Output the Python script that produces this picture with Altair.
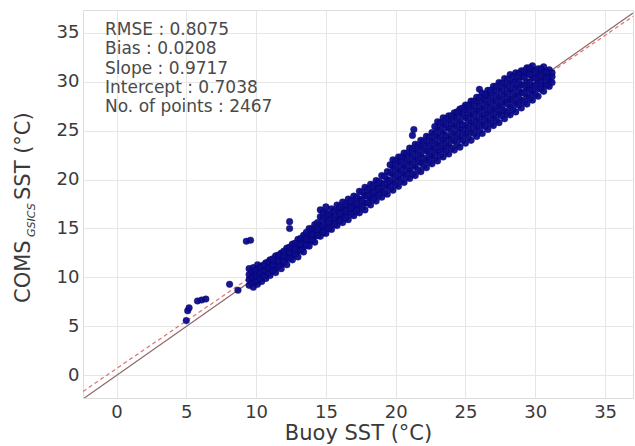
import altair as alt
import pandas as pd

# ---- data ----
outlier_buoy = [5.0, 5.1, 5.2, 5.8, 6.1, 6.4, 8.1, 8.7, 9.3, 9.6, 12.4, 12.4, 21.2, 21.3, 26.0, 26.5]
outlier_coms = [5.6, 6.6, 6.9, 7.6, 7.7, 7.8, 9.3, 8.7, 13.7, 13.8, 15.7, 15.0, 24.5, 25.1, 29.2, 28.6]

band_cols_a = [
    (9.5, [9.2, 9.8, 10.3, 10.9]), (9.8, [9.0, 9.6, 10.1, 10.6, 11.0]),
    (10.1, [9.3, 9.9, 10.4, 10.9, 11.3]), (10.4, [9.6, 10.2, 10.7, 11.2]),
    (10.7, [9.9, 10.5, 11.0, 11.5]), (11.0, [10.2, 10.8, 11.3, 11.8]),
    (11.4, [10.5, 11.0, 11.6, 12.2]), (11.8, [10.9, 11.4, 12.0, 12.5]),
    (12.2, [11.3, 11.9, 12.5, 13.0]), (12.6, [11.8, 12.3, 12.8, 13.4]),
    (13.0, [12.1, 12.7, 13.3, 13.9]), (13.4, [12.6, 13.1, 13.7, 14.3]),
    (13.8, [13.2, 13.8, 14.4, 15.0]), (14.2, [13.6, 14.2, 14.8, 15.4]),
    (14.6, [14.2, 14.8, 15.4, 16.2, 16.9]), (15.0, [14.5, 15.2, 15.9, 16.6, 17.2]),
    (15.4, [14.9, 15.6, 16.3, 17.0]), (15.8, [15.3, 16.0, 16.7, 17.4]),
    (16.2, [15.6, 16.3, 17.0, 17.7]), (16.6, [15.9, 16.6, 17.3, 18.0]),
    (17.0, [16.3, 17.0, 17.6, 18.3]), (17.4, [16.6, 17.3, 18.0, 18.8]),
    (17.8, [16.9, 17.6, 18.4, 19.2]), (18.2, [17.4, 18.1, 18.8, 19.5]),
    (18.6, [17.8, 18.5, 19.2, 19.9]), (19.0, [18.2, 18.9, 19.6, 20.4]),
    (19.4, [18.5, 19.3, 20.0, 20.8]), (19.8, [18.9, 19.7, 20.5, 21.3, 22.0]),
    (20.2, [19.3, 20.1, 20.9, 21.7, 22.3]), (20.6, [19.7, 20.5, 21.3, 22.1, 22.7]),
    (21.0, [20.1, 20.9, 21.7, 22.5, 23.2]), (21.4, [20.4, 21.3, 22.1, 22.9, 23.6]),
    (21.8, [20.8, 21.7, 22.5, 23.3, 24.0]), (22.2, [21.2, 22.0, 22.9, 23.7, 24.4]),
    (22.6, [21.6, 22.4, 23.2, 24.0, 24.8]), (23.0, [21.9, 22.8, 23.6, 24.4, 25.2, 25.9]),
    (23.4, [22.3, 23.1, 24.0, 24.8, 25.6, 26.3]), (23.8, [22.6, 23.5, 24.3, 25.2, 26.0, 26.5]),
    (24.2, [23.0, 23.9, 24.7, 25.5, 26.3, 26.8]), (24.6, [23.3, 24.2, 25.1, 25.9, 26.7, 27.2]),
    (25.0, [23.7, 24.6, 25.4, 26.3, 27.1, 27.6]), (25.4, [24.0, 24.9, 25.8, 26.6, 27.4, 28.0]),
    (25.8, [24.4, 25.3, 26.1, 27.0, 27.8, 28.4]), (26.2, [24.7, 25.6, 26.5, 27.3, 28.1, 28.8]),
    (26.6, [25.1, 26.0, 26.8, 27.7, 28.5, 29.1]), (27.0, [25.5, 26.3, 27.2, 28.0, 28.9, 29.5]),
    (27.4, [25.8, 26.7, 27.5, 28.4, 29.2, 29.9]), (27.8, [26.2, 27.0, 27.9, 28.7, 29.6, 30.3]),
    (28.2, [26.6, 27.4, 28.2, 29.1, 29.9, 30.7]), (28.6, [26.9, 27.8, 28.6, 29.4, 30.2, 30.9]),
    (29.0, [27.3, 28.1, 28.9, 29.7, 30.5, 31.1]), (29.4, [27.7, 28.5, 29.3, 30.0, 30.8, 31.4]),
    (29.8, [28.1, 28.9, 29.6, 30.4, 31.1, 31.6]), (30.2, [28.5, 29.3, 30.0, 30.7, 31.3]),
    (30.6, [29.0, 29.7, 30.4, 31.0, 31.5]), (31.0, [29.5, 30.1, 30.7, 31.2]),
    (31.2, [29.9, 30.5, 30.9]),
]

band_cols_b = [
    (9.7, [9.5, 10.0, 10.6]), (10.0, [9.6, 10.2, 10.7]), (10.3, [9.9, 10.5, 11.0]),
    (10.6, [10.2, 10.7, 11.3]), (10.9, [10.5, 11.0, 11.6]), (11.2, [10.7, 11.3, 11.9]),
    (11.6, [11.2, 11.7, 12.3]), (12.0, [11.6, 12.2, 12.7]), (12.4, [12.0, 12.6, 13.1]),
    (12.8, [12.4, 12.9, 13.5]), (13.2, [12.8, 13.4, 14.0]), (13.6, [13.3, 13.9, 14.6]),
    (14.0, [13.8, 14.4, 15.0]), (14.4, [14.3, 14.9, 15.6]), (14.8, [14.6, 15.3, 16.0, 16.6]),
    (15.2, [15.0, 15.7, 16.4]), (15.6, [15.4, 16.1, 16.8]), (16.0, [15.8, 16.5, 17.2]),
    (16.4, [16.1, 16.8, 17.5]), (16.8, [16.5, 17.2, 17.8]), (17.2, [16.8, 17.5, 18.2]),
    (17.6, [17.2, 17.9, 18.7]), (18.0, [17.6, 18.3, 19.0]), (18.4, [18.0, 18.7, 19.4]),
    (18.8, [18.4, 19.1, 19.8]), (19.2, [18.7, 19.5, 20.3]), (19.6, [19.1, 19.9, 20.7, 21.5]),
    (20.0, [19.5, 20.3, 21.1, 21.9]), (20.4, [19.9, 20.7, 21.5, 22.3]),
    (20.8, [20.3, 21.1, 21.9, 22.7]), (21.2, [20.6, 21.5, 22.3, 23.1]),
    (21.6, [21.0, 21.9, 22.7, 23.5]), (22.0, [21.4, 22.2, 23.1, 23.9]),
    (22.4, [21.8, 22.6, 23.4, 24.3]), (22.8, [22.2, 23.0, 23.8, 24.6, 25.4]),
    (23.2, [22.5, 23.4, 24.2, 25.0, 25.8]), (23.6, [22.9, 23.7, 24.5, 25.4, 26.2]),
    (24.0, [23.2, 24.1, 24.9, 25.7, 26.5]), (24.4, [23.6, 24.5, 25.3, 26.1, 26.9]),
    (24.8, [24.0, 24.8, 25.6, 26.5, 27.3]), (25.2, [24.3, 25.2, 26.0, 26.8, 27.6]),
    (25.6, [24.7, 25.5, 26.4, 27.2, 28.0]), (26.0, [25.0, 25.9, 26.7, 27.5, 28.4]),
    (26.4, [25.4, 26.2, 27.1, 27.9, 28.7]), (26.8, [25.7, 26.6, 27.4, 28.3, 29.1]),
    (27.2, [26.1, 26.9, 27.8, 28.6, 29.5]), (27.6, [26.5, 27.3, 28.1, 29.0, 29.8]),
    (28.0, [26.8, 27.7, 28.5, 29.3, 30.2]), (28.4, [27.2, 28.0, 28.8, 29.7, 30.5]),
    (28.8, [27.6, 28.4, 29.2, 30.0, 30.8]), (29.2, [27.9, 28.8, 29.6, 30.4, 31.1]),
    (29.6, [28.3, 29.1, 29.9, 30.7, 31.4]), (30.0, [28.7, 29.5, 30.3, 31.0]),
    (30.4, [29.2, 29.9, 30.6, 31.3]), (30.8, [29.6, 30.3, 31.0]),
]

stats_lines = ["RMSE : 0.8075", "Bias : 0.0208", "Slope : 0.9717",
               "Intercept : 0.7038", "No. of points : 2467"]
slope = 0.9717
intercept = 0.7038
x_domain = [-2.4, 37.0]
y_domain = [-2.3, 37.3]
ticks = [0, 5, 10, 15, 20, 25, 30, 35]

# ---- build tables ----
bx, by = list(outlier_buoy), list(outlier_coms)
for xv, ys in band_cols_a + band_cols_b:
    for yv in ys:
        bx.append(xv)
        by.append(yv)
pts = pd.DataFrame({"buoy": bx, "coms": by})

one2one = pd.DataFrame({"buoy": [x_domain[0], x_domain[1]], "coms": [x_domain[0], x_domain[1]]})
fit = pd.DataFrame({"buoy": x_domain, "coms": [slope * v + intercept for v in x_domain]})

FONT = "DejaVu Sans"
xs = alt.Scale(domain=x_domain, nice=False, zero=False)
ys_ = alt.Scale(domain=y_domain, nice=False, zero=False)

xaxis = alt.Axis(values=ticks, title="Buoy SST (°C)", grid=True, ticks=False, domain=False,
                 labelFontSize=18, labelColor="#3a3a3a", labelFont=FONT, labelPadding=5,
                 titleFont=FONT, titleFontSize=21, titleFontWeight="normal", titleColor="#3a3a3a",
                 titlePadding=1, gridColor="#e6e6e6")
yaxis = alt.Axis(values=ticks, title=None, grid=True, ticks=False, domain=False,
                 labelFontSize=18, labelColor="#3a3a3a", labelFont=FONT, labelPadding=4,
                 gridColor="#e6e6e6")

base_line = alt.Chart(one2one).mark_line(color="#8a6a6a", strokeWidth=1.2, clip=True).encode(
    x=alt.X("buoy:Q", scale=xs, axis=xaxis),
    y=alt.Y("coms:Q", scale=ys_, axis=yaxis),
)
fit_line = alt.Chart(fit).mark_line(color="#e07070", strokeWidth=1.2, strokeDash=[4, 3], clip=True).encode(
    x=alt.X("buoy:Q"), y=alt.Y("coms:Q")
)
points = alt.Chart(pts).mark_circle(size=44, color="#0c0c8c", opacity=0.95,
                                    stroke="#000066", strokeWidth=0.4).encode(
    x=alt.X("buoy:Q"), y=alt.Y("coms:Q")
)

stat_layers = []
for i, line in enumerate(stats_lines):
    stat_layers.append(
        alt.Chart(pd.DataFrame({"t": [line]})).mark_text(
            align="left", baseline="middle", font=FONT, fontSize=17, color="#4a4a4a"
        ).encode(x=alt.value(22), y=alt.value(20 + 19.3 * i), text="t:N")
    )

ytitle_a = alt.Chart(pd.DataFrame({"t": ["COMS"]})).mark_text(
    align="left", baseline="middle", angle=270, font=FONT, fontSize=21, color="#3a3a3a"
).encode(x=alt.value(-59), y=alt.value(293), text="t:N")
ytitle_b = alt.Chart(pd.DataFrame({"t": ["GSICS"]})).mark_text(
    align="left", baseline="middle", angle=270, font=FONT, fontSize=11, fontStyle="italic",
    color="#3a3a3a"
).encode(x=alt.value(-51), y=alt.value(227), text="t:N")
ytitle_c = alt.Chart(pd.DataFrame({"t": ["SST (°C)"]})).mark_text(
    align="left", baseline="middle", angle=270, font=FONT, fontSize=21, color="#3a3a3a"
).encode(x=alt.value(-59), y=alt.value(190), text="t:N")

chart = alt.layer(base_line, fit_line, points, *stat_layers, ytitle_a, ytitle_b, ytitle_c).properties(
    width=550, height=388,
    padding={"left": 83, "top": 10, "right": 2, "bottom": 48},
    autosize="none",
).configure_view(stroke="#8c8c8c", strokeWidth=1.5).configure(background="white")

chart.save("out.html", embed_options={"renderer": "svg", "actions": False})
